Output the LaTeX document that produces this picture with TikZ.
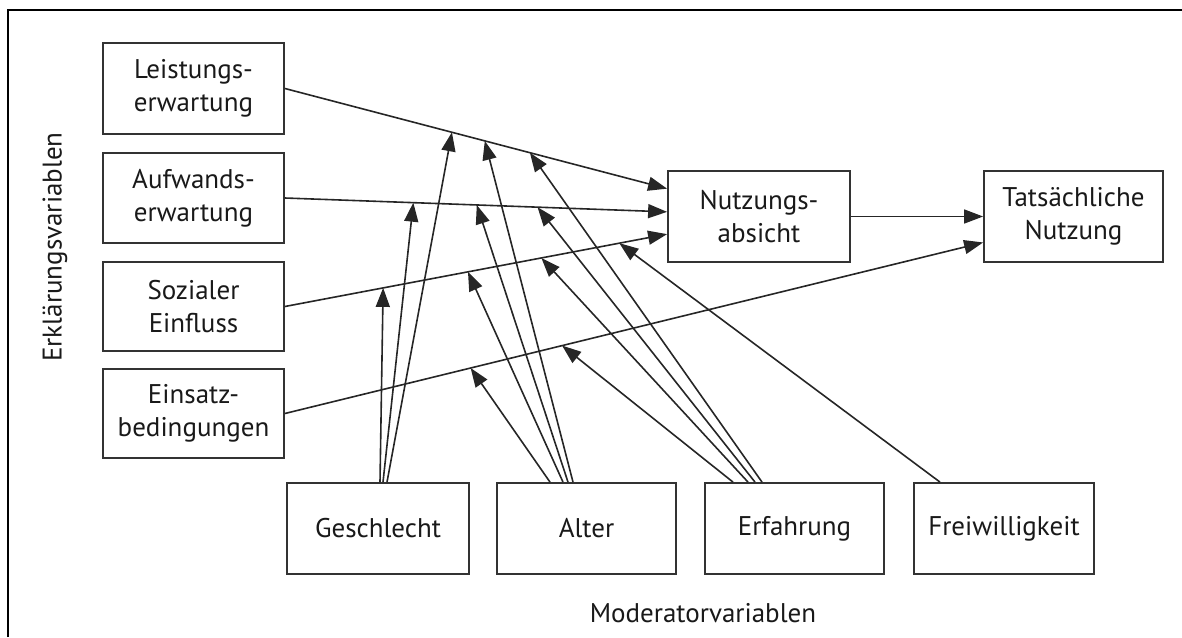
\documentclass[tikz,border=0pt]{standalone}
\usepackage{fontspec}
\setmainfont{PT Sans}
\usetikzlibrary{arrows.meta,calc}
\begin{document}
\begin{tikzpicture}[x=1pt,y=-1pt,
  box/.style={draw=black!80, line width=1.8pt, minimum width=181pt, minimum height=91pt,
    align=center, inner sep=0pt, text=black!90, font=\fontsize{27}{33}\selectfont},
  lab/.style={inner sep=0pt, text=black!90, font=\fontsize{27}{33}\selectfont},
  arr/.style={line width=1.6pt, draw=black!85, -{Triangle[length=19pt,width=14pt]}}]
\useasboundingbox (0,0) rectangle (1182,637);
\draw[line width=2.2pt] (8,637) -- (8,10) -- (1182,10);

\node[box] (leist) at (193.5,88.5) {Leistungs-\\erwartung};
\node[box, minimum height=90pt] (aufw) at (193.5,198) {Aufwands-\\erwartung};
\node[box, minimum height=89pt] (soz) at (193.5,306.5) {Sozialer\\Einfluss};
\node[box, minimum height=89pt] (eins) at (193.5,413.5) {Einsatz-\\bedingungen};
\node[box, minimum width=182pt] (nutz) at (759,216.5) {Nutzungs-\\absicht};
\node[box, minimum width=179pt] (tats) at (1073.5,216.5) {Tatsächliche\\Nutzung};
\node[box, minimum width=182pt] (gesch) at (378,528.5) {Geschlecht};
\node[box, minimum width=179pt] (alter) at (586.5,528.5) {Alter};
\node[box, minimum width=179pt] (erf) at (794.5,528.5) {Erfahrung};
\node[box, minimum width=180pt] (frei) at (1004,528.5) {Freiwilligkeit};
\node[lab, rotate=90] (erkl) at (55,247) {Erklärungsvariablen};
\node[lab] (mod) at (703,613) {Moderatorvariablen};

\coordinate (n1) at ($(nutz.north west)!0.2!(nutz.south west)$);
\coordinate (n2) at ($(nutz.north west)!0.45!(nutz.south west)$);
\coordinate (n3) at ($(nutz.north west)!0.69!(nutz.south west)$);
\coordinate (t2) at ($(tats.north west)!0.78!(tats.south west)$);

\draw[arr] (leist.east) -- (n1);
\draw[arr] (aufw.east) -- (n2);
\draw[arr] (soz.east) -- (n3);
\draw[arr] (eins.east) -- (t2);
\draw[arr] (nutz.east) -- (tats.west);

\coordinate (a1) at ($(leist.east)!0.437!(n1)$);
\coordinate (a2) at ($(leist.east)!0.523!(n1)$);
\coordinate (a3) at ($(leist.east)!0.641!(n1)$);
\coordinate (b1) at ($(aufw.east)!0.336!(n2)$);
\coordinate (b2) at ($(aufw.east)!0.502!(n2)$);
\coordinate (b3) at ($(aufw.east)!0.661!(n2)$);
\coordinate (c1) at ($(soz.east)!0.257!(n3)$);
\coordinate (c2) at ($(soz.east)!0.479!(n3)$);
\coordinate (c3) at ($(soz.east)!0.671!(n3)$);
\coordinate (c4) at ($(soz.east)!0.875!(n3)$);
\coordinate (d1) at ($(eins.east)!0.266!(t2)$);
\coordinate (d2) at ($(eins.east)!0.397!(t2)$);

\draw[arr] ([xshift=2pt]gesch.north) -- (c1);
\draw[arr] ([xshift=5pt]gesch.north) -- (b1);
\draw[arr] ([xshift=9pt]gesch.north) -- (a1);

\draw[arr] ([xshift=-36.5pt]alter.north) -- (d1);
\draw[arr] ([xshift=-23.5pt]alter.north) -- (c2);
\draw[arr] ([xshift=-18.5pt]alter.north) -- (b2);
\draw[arr] ([xshift=-13.5pt]alter.north) -- (a2);

\draw[arr] ([xshift=-61.5pt]erf.north) -- (d2);
\draw[arr] ([xshift=-46.5pt]erf.north) -- (c3);
\draw[arr] ([xshift=-39.5pt]erf.north) -- (b3);
\draw[arr] ([xshift=-32.5pt]erf.north) -- (a3);

\draw[arr] ([xshift=-64pt]frei.north) -- (c4);
\end{tikzpicture}
\end{document}
